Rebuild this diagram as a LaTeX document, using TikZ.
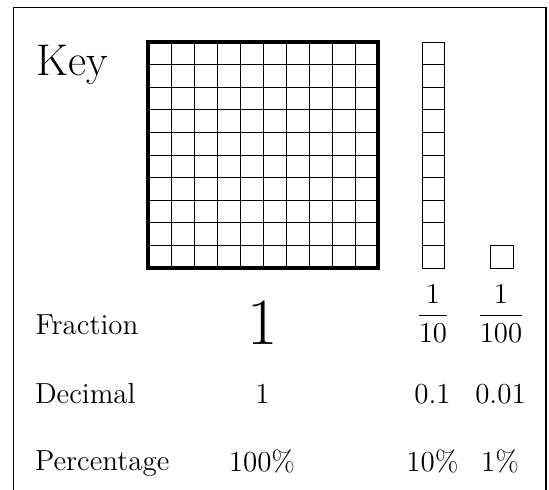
\documentclass[tikz,border=0pt]{standalone}
\usepackage{fontspec}
\begin{document}
\begin{tikzpicture}[x=0.5pt,y=-0.5pt,
  gridline/.style={line width=0.45pt,black},
  thickbox/.style={line width=2pt,black},
  frameline/.style={line width=0.55pt,black},
  lbl/.style={inner sep=0pt,outer sep=0pt,font=\fontsize{14.5}{17}\selectfont},
  keylbl/.style={inner sep=0pt,outer sep=0pt,font=\fontsize{22.2}{26}\selectfont},
  biglbl/.style={inner sep=0pt,outer sep=0pt,font=\fontsize{33}{38}\selectfont}]
\useasboundingbox (0,0) rectangle (549,490);
% frame (open at the bottom)
\draw[frameline] (13.5,490) -- (13.5,7.5) -- (546,7.5) -- (546,490);
% 10x10 grid
\foreach \i in {1,...,9} {
  \draw[gridline] (148+23*\i,42) -- (148+23*\i,268);
  \draw[gridline] (148,42+22.6*\i) -- (378,42+22.6*\i);
}
\draw[thickbox] (148,42) rectangle (378,268);
% rod of ten
\draw[gridline] (422,42) rectangle (444,268);
\foreach \i in {1,...,9} {
  \draw[gridline] (422,42+22.6*\i) -- (444,42+22.6*\i);
}
% unit square
\draw[gridline] (490,245) rectangle (513,268);
% texts
\node[keylbl,anchor=base west] (key) at (36.5,76) {Key};
\node[lbl,anchor=base west] (frac) at (35.5,335) {Fraction};
\node[lbl,anchor=base west] (dec) at (35,403) {Decimal};
\node[lbl,anchor=base west] (pct) at (35,470.5) {Percentage};
\node[biglbl,anchor=base] (f1) at (263,344) {1};
\node[lbl,anchor=base] (f10) at (433,323) {$\displaystyle{1\over 10}$};
\node[lbl,anchor=base] (f100) at (501,323) {$\displaystyle{1\over 100}$};
\node[lbl,anchor=base] (d1) at (262.5,403) {1};
\node[lbl,anchor=base] (d10) at (432.5,403) {0.1};
\node[lbl,anchor=base] (d100) at (500.5,403) {0.01};
\node[lbl,anchor=base] (p1) at (262,471.5) {100\%};
\node[lbl,anchor=base] (p10) at (432.5,471.5) {10\%};
\node[lbl,anchor=base] (p100) at (500,471.5) {1\%};
\end{tikzpicture}
\end{document}
